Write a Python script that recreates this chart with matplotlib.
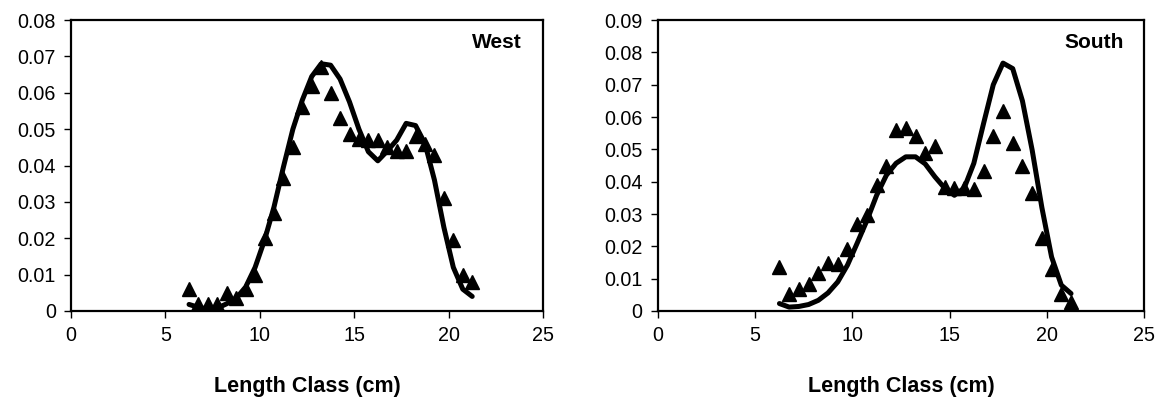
import numpy as np
import matplotlib
matplotlib.use("Agg")
import matplotlib.pyplot as plt
from matplotlib.ticker import FuncFormatter

plt.rcParams['font.family'] = ['Liberation Sans', 'DejaVu Sans']

# length classes (cm), midpoints of 0.5 cm bins
length_class = np.arange(6.25, 21.3, 0.5)

# West: observed proportions and fitted curve
west_obs = [0.006, 0.002, 0.002, 0.002, 0.005, 0.0035, 0.006, 0.010, 0.020, 0.027,
            0.0366, 0.045, 0.056, 0.062, 0.067, 0.060, 0.053, 0.0486, 0.0474, 0.047,
            0.047, 0.045, 0.044, 0.044, 0.048, 0.046, 0.043, 0.031, 0.0196, 0.010, 0.008]
west_fit = [0.0018, 0.001, 0.0005, 0.0008, 0.002, 0.0035, 0.0066, 0.012, 0.0195, 0.0286,
            0.0396, 0.050, 0.058, 0.0645, 0.068, 0.0676, 0.0638, 0.0575, 0.050, 0.0438,
            0.0413, 0.044, 0.047, 0.0516, 0.051, 0.046, 0.036, 0.023, 0.012, 0.006, 0.004]

# South: observed proportions and fitted curve
south_obs = [0.0136, 0.0054, 0.0069, 0.0085, 0.0118, 0.0147, 0.0145, 0.0193, 0.027, 0.0296,
             0.039, 0.045, 0.056, 0.0567, 0.054, 0.049, 0.051, 0.0384, 0.038, 0.038,
             0.0376, 0.0434, 0.054, 0.062, 0.052, 0.045, 0.0366, 0.0227, 0.0131, 0.0054, 0.0028]
south_fit = [0.0023, 0.0012, 0.0014, 0.002, 0.0033, 0.0056, 0.009, 0.0142, 0.021, 0.028,
             0.0358, 0.042, 0.0457, 0.0477, 0.0477, 0.0455, 0.0415, 0.038, 0.0358, 0.038,
             0.0457, 0.058, 0.070, 0.0767, 0.075, 0.065, 0.0498, 0.032, 0.0167, 0.008, 0.0054]

panels = [
    ("West", west_obs, west_fit, 0.08, [0.0612, 0.2206, 0.4065, 0.729], 0.955),
    ("South", south_obs, south_fit, 0.09, [0.5667, 0.2206, 0.4186, 0.729], 0.959),
]

fig = plt.figure(figsize=(11.61, 3.99), dpi=100)

for name, obs, fit, ymax, rect, xtxt in panels:
    ax = fig.add_axes(rect)
    ax.plot(length_class, fit, color='black', linewidth=3.6, zorder=2,
            solid_capstyle='round')
    ax.plot(length_class, obs, linestyle='none', marker='^', markersize=10.5,
            color='black', zorder=3)
    ax.set_xlim(0, 25)
    ax.set_ylim(0, ymax)
    ax.set_xticks(np.arange(0, 26, 5))
    ax.set_yticks(np.arange(0, ymax + 0.001, 0.01))
    ax.yaxis.set_major_formatter(FuncFormatter(lambda v, p: '0' if abs(v) < 1e-9 else f'{v:.2f}'))
    ax.tick_params(direction='out', length=5, width=1, labelsize=14.2, pad=6, colors='black')
    for sp in ax.spines.values():
        sp.set_linewidth(1.6)
    ax.text(xtxt, 0.924, name, transform=ax.transAxes, ha='right', va='center',
            fontsize=15, fontweight='bold')
    ax.set_xlabel('Length Class (cm)', fontsize=15.5, fontweight='bold', labelpad=22)

fig.savefig('out.png', dpi=100)
